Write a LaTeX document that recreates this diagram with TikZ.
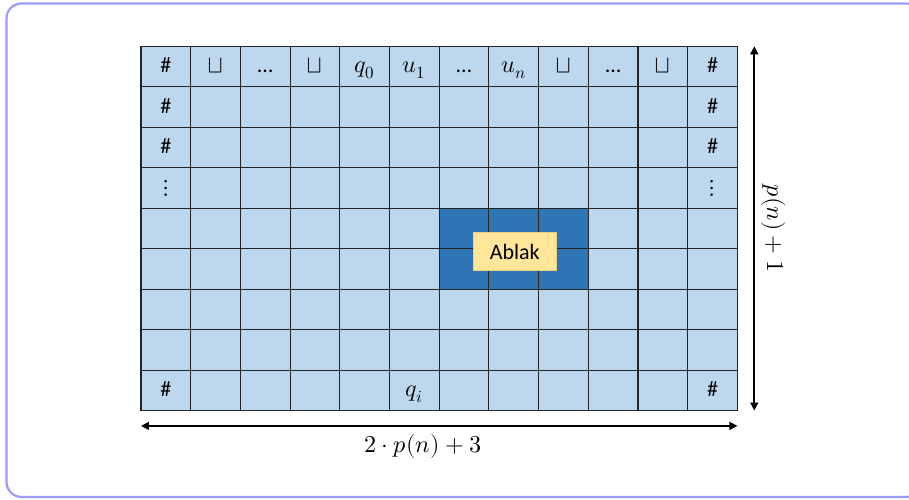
\documentclass[tikz,border=0pt]{standalone}
\usepackage{fontspec}
\usepackage{unicode-math}
\setmainfont{Carlito}
\setmathfont{Latin Modern Math}[Scale=1.1]
\usetikzlibrary{arrows.meta}

\definecolor{cellblue}{RGB}{189,215,238}
\definecolor{blockblue}{RGB}{46,117,182}
\definecolor{labelyellow}{RGB}{255,230,153}
\definecolor{labeledge}{RGB}{235,205,130}
\definecolor{framepurple}{RGB}{155,155,255}
\definecolor{gridline}{RGB}{35,35,35}

\tikzset{
    celltext/.style={anchor=base, inner sep=0pt},
    dimarrow/.style={line width=1.6pt, {Triangle[length=8pt,width=8pt]}-{Triangle[length=8pt,width=8pt]}},
}

\begin{document}
\begin{tikzpicture}[x=49.7pt, y=-40.47pt, font=\fontsize{22}{26}\selectfont]
        \useasboundingbox (-2.837,-1.144) rectangle (15.453,11.21);
        \draw[framepurple, line width=2.2pt, rounded corners=15pt] (-2.706,-1.058) rectangle (15.7,11.137);
        % tape cells
        \fill[cellblue] (0,0) rectangle (12,9);
        \fill[blockblue] (6,4) rectangle (9,6);
        \foreach \i in {0,...,12}
            \draw[gridline, line width=1.1pt] (\i,0) -- (\i,9);
        \foreach \r in {0,...,9}
            \draw[gridline, line width=1.1pt] (0,\r) -- (12,\r);
        % first configuration
        \foreach \t [count=\i from 0] in {\#, $\sqcup$, {…}, $\sqcup$, $q_0$, $u_1$, {…}, $u_n$, $\sqcup$, {…}, $\sqcup$, \#}
            \node[celltext] (top\i) at (\i+0.5,0.655) {\t};
        \foreach \r/\t in {1/\#, 2/\#, 3/$\vdots$, 8/\#} {
            \node[celltext] (left\r) at (0.5,\r+0.655) {\t};
            \node[celltext] (right\r) at (11.5,\r+0.655) {\t};
        }
        \node[celltext] (state) at (5.5,8.655) {$q_i$};
        % window
        \node[fill=labelyellow, draw=labeledge, line width=0.6pt, minimum width=83pt, minimum height=38pt, inner sep=0pt] (window) at (7.52,5.07) {Ablak};
        % dimensions
        \coordinate (vtop) at (12.34,0);
        \coordinate (vbot) at (12.34,9);
        \draw[dimarrow] (vtop) -- (vbot);
        \node[rotate=-90] (height) at (12.72,4.5) {$p(n)+1$};
        \coordinate (hleft) at (0,9.38);
        \coordinate (hright) at (12,9.38);
        \draw[dimarrow] (hleft) -- (hright);
        \node (width) at (5.67,9.9) {$2\cdot p(n)+3$};
\end{tikzpicture}
\end{document}
